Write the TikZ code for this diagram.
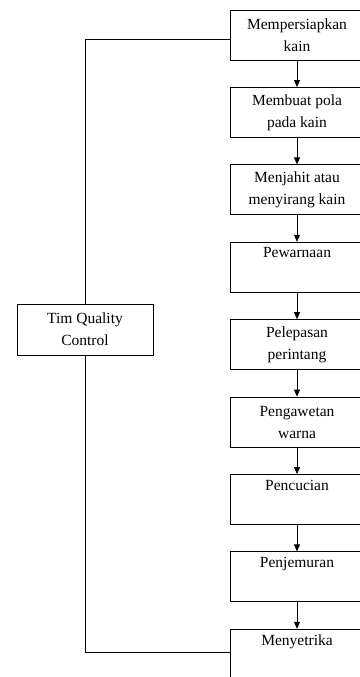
\documentclass[tikz,border=0pt]{standalone}
\usepackage{fontspec}
\setmainfont{Liberation Serif}
\usetikzlibrary{arrows.meta}

\begin{document}
\begin{tikzpicture}[x=1pt,y=-1pt,line width=0.8pt,
    stage/.style={draw,minimum width=134pt,minimum height=50pt,align=center,
      font=\fontsize{15.5}{22}\selectfont,inner sep=2pt},
    flow/.style={-{Triangle[length=7pt,width=6pt]}}]
  \useasboundingbox (0,0) rectangle (359,677);
  \node [stage] (b1) at (297,35) {Mempersiapkan\\kain};
  \node [stage] (b2) at (297,112.4) {Membuat pola\\pada kain};
  \node [stage] (b3) at (297,189.8) {Menjahit atau\\menyirang kain};
  \node [stage] (b4) at (297,267.2) {Pewarnaan\\\strut};
  \node [stage] (b5) at (297,344.6) {Pelepasan\\perintang};
  \node [stage] (b6) at (297,422) {Pengawetan\\warna};
  \node [stage] (b7) at (297,499.4) {Pencucian\\\strut};
  \node [stage] (b8) at (297,576.8) {Penjemuran\\\strut};
  \node [stage] (b9) at (297,654.2) {Menyetrika\\\strut};
  \node [stage,minimum width=136pt,minimum height=51pt] (qc) at (85,329.5) {Tim Quality\\Control};
  \foreach \i [evaluate=\i as \j using int(\i+1)] in {1,...,8}
    \draw [flow] (b\i) -- (b\j);
  \draw ([yshift=-4pt]b1.west) -| (qc.north);
  \draw (qc.south) |- ([yshift=2pt]b9.west);
\end{tikzpicture}
\end{document}
